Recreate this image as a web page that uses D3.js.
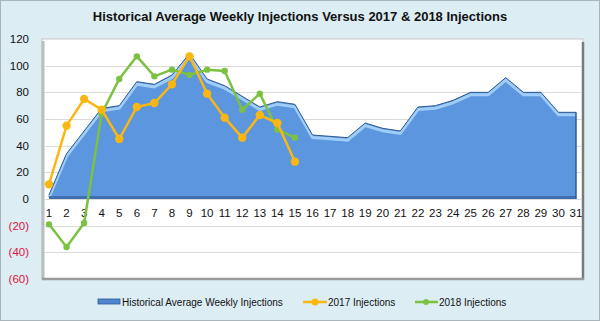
<!DOCTYPE html>
<html><head><meta charset="utf-8">
<script src="https://cdn.jsdelivr.net/npm/d3@7/dist/d3.min.js"></script>
<style>body{margin:0;padding:0;background:#fff}svg{display:block;font-family:"Liberation Sans",Arial,sans-serif}</style>
</head><body><svg id="c" width="600" height="321"></svg>
<script>
const title = "Historical Average Weekly Injections Versus 2017 & 2018 Injections";
const weeks = d3.range(1, 32);
const historical = [3,34,51,68,70,88,86,93,109,90,85,77,69,73,71,48,47,46,57,53,51,69,70,74,80,80,91,80,80,65,65];
const inj2017 = [11,55,75,67,45,69,72,86,107,79,61,46,63,57,28];
const inj2018 = [-19,-36,-18,64,90,107,92,97,93,97,96,67,79,52,46];
const yTicks = [-60,-40,-20,0,20,40,60,80,100,120];
const seriesNames = ["Historical Average Weekly Injections","2017 Injections","2018 Injections"];

const svg = d3.select("#c");
const W = 600, H = 321;
const plot = {l:42, r:583, t:39, b:279};

svg.append("rect").attr("x",0.5).attr("y",0.5).attr("width",W-1).attr("height",H-1)
  .attr("fill","#dcedf4").attr("stroke","#a9b4b8");

const x = d3.scalePoint().domain(weeks).range([49, 576]);
const y = d3.scaleLinear().domain([-60,120]).range([plot.b, plot.t]);

// plot area frame
svg.append("rect").attr("x",plot.l).attr("y",plot.t).attr("width",plot.r-plot.l).attr("height",plot.b-plot.t)
  .attr("fill","#ffffff").attr("stroke","#c8c8c8");
svg.append("line").attr("x1",plot.l+1).attr("x2",plot.l+1).attr("y1",plot.t+2).attr("y2",plot.b)
  .attr("stroke","#bdbdbd").attr("stroke-width",3);
svg.append("line").attr("x1",plot.r).attr("x2",plot.r).attr("y1",plot.t+3).attr("y2",plot.b+1)
  .attr("stroke","#7a7a7a").attr("stroke-width",2.5);
svg.append("line").attr("x1",plot.l).attr("x2",plot.r+1).attr("y1",plot.b).attr("y2",plot.b)
  .attr("stroke","#9a9a9a").attr("stroke-width",2.5);

// gridlines
svg.append("g").selectAll("line").data(yTicks.filter(v=>v>-60 && v<120)).join("line")
  .attr("x1",plot.l+3).attr("x2",plot.r-1).attr("y1",d=>Math.round(y(d))+0.5).attr("y2",d=>Math.round(y(d))+0.5)
  .attr("stroke","#dadada");

// y labels
svg.append("g").selectAll("text").data(yTicks).join("text")
  .attr("x",29).attr("y",d=>y(d)+4).attr("text-anchor","end").attr("font-size",11.5)
  .attr("fill",d=>d<0?"#e0143c":"#111")
  .text(d=>d<0?"("+(-d)+")":d);

// historical area
const area = d3.area().x((d,i)=>x(weeks[i])).y0(y(0)).y1(d=>y(d));
const lineH = d3.line().x((d,i)=>x(weeks[i])).y(d=>y(d));
svg.append("path").datum(historical).attr("d",area).attr("fill","#5b96df");
svg.append("path").datum(historical).attr("d",lineH).attr("fill","none")
  .attr("stroke","#9fcdf7").attr("stroke-width",3).attr("transform","translate(0,2.5)");
svg.append("path").datum(historical).attr("d",lineH).attr("fill","none")
  .attr("stroke","#2d5a92").attr("stroke-width",1);
svg.append("line").attr("x1",x(1)).attr("x2",x(31)).attr("y1",y(0)-1.5).attr("y2",y(0)-1.5)
  .attr("stroke","#3f6fae").attr("stroke-width",3);
svg.append("line").attr("x1",x(31)).attr("x2",x(31)).attr("y1",y(historical[30])).attr("y2",y(0))
  .attr("stroke","#2d5a92").attr("stroke-width",1.5);

// x labels
svg.append("g").selectAll("text").data(weeks).join("text")
  .attr("x",d=>x(d)).attr("y",y(0)+18).attr("text-anchor","middle").attr("font-size",11.5).attr("fill","#111")
  .text(d=>d);

// lines
const line = d3.line().x((d,i)=>x(weeks[i])).y(d=>y(d));
function series(data, color, r, sw){
  svg.append("path").datum(data).attr("d",line).attr("fill","none").attr("stroke",color).attr("stroke-width",sw);
  svg.append("g").selectAll("circle").data(data).join("circle")
    .attr("cx",(d,i)=>x(weeks[i])).attr("cy",d=>y(d)).attr("r",r).attr("fill",color);
}
series(inj2018, "#7cc242", 3.2, 2.5);
series(inj2017, "#fbb711", 4.2, 2.5);

// title
svg.append("text").attr("x",300).attr("y",21).attr("text-anchor","middle")
  .attr("font-size",13).attr("font-weight","bold").attr("fill","#111").text(title);

// legend
const ly = 302;
const lg = svg.append("g");
lg.append("rect").attr("x",98).attr("y",ly-3).attr("width",22).attr("height",5).attr("fill","#4f86d0").attr("stroke","#2d5a92").attr("stroke-width",0.8);
lg.append("text").attr("x",122).attr("y",ly+3.5).attr("font-size",10).attr("fill","#111").text(seriesNames[0]);
lg.append("line").attr("x1",303).attr("x2",327).attr("y1",ly).attr("y2",ly).attr("stroke","#fbb711").attr("stroke-width",2.5);
lg.append("circle").attr("cx",315).attr("cy",ly).attr("r",3.5).attr("fill","#fbb711");
lg.append("text").attr("x",328).attr("y",ly+3.5).attr("font-size",10).attr("fill","#111").text(seriesNames[1]);
lg.append("line").attr("x1",415).attr("x2",438).attr("y1",ly).attr("y2",ly).attr("stroke","#7cc242").attr("stroke-width",2.5);
lg.append("circle").attr("cx",426).attr("cy",ly).attr("r",3).attr("fill","#7cc242");
lg.append("text").attr("x",439).attr("y",ly+3.5).attr("font-size",10).attr("fill","#111").text(seriesNames[2]);
</script></body></html>
